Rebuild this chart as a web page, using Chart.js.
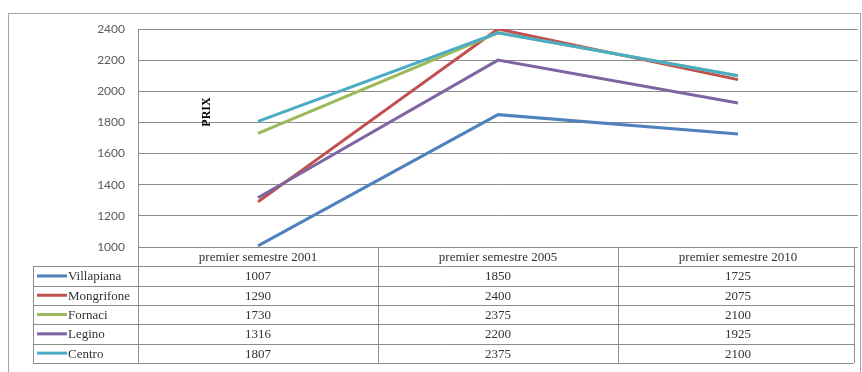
<!DOCTYPE html>
<html>
<head>
<meta charset="utf-8">
<script src="https://cdn.jsdelivr.net/npm/chart.js@4"></script>
<style>
  html, body { margin: 0; padding: 0; background: #fff; }
</style>
</head>
<body>
<canvas id="priceChart" width="862" height="372"></canvas>
<script>
// data
const periods = ["premier semestre 2001", "premier semestre 2005", "premier semestre 2010"];
const zones = ["Villapiana", "Mongrifone", "Fornaci", "Legino", "Centro"];
const villapiana = [1007, 1850, 1725];
const mongrifone = [1290, 2400, 2075];
const fornaci = [1730, 2375, 2100];
const legino = [1316, 2200, 1925];
const centro = [1807, 2375, 2100];
const yTicks = [1000, 1200, 1400, 1600, 1800, 2000, 2200, 2400];

const colors = ["#4F81BD", "#C0504D", "#9BBB59", "#8064A2", "#4BACC6"];
const allValues = [villapiana, mongrifone, fornaci, legino, centro];

// draws the frame, the PRIX label and the data table under the plot
const tablePlugin = {
  id: "dataTable",
  afterDraw(chart) {
    let ctx = chart.ctx;
    let area = chart.chartArea;
    let x = chart.scales.x;
    let lineCol = "#8c8c8c";

    ctx.save();
    // outer frame
    ctx.strokeStyle = "#a6a6a6";
    ctx.lineWidth = 1;
    ctx.strokeRect(8.5, 13.5, 852, 400);

    // PRIX
    ctx.save();
    ctx.translate(207, 112);
    ctx.rotate(-Math.PI / 2);
    ctx.font = 'bold 12px "Liberation Serif"';
    ctx.fillStyle = "#000";
    ctx.textAlign = "center";
    ctx.textBaseline = "middle";
    ctx.fillText("PRIX", 0, 0);
    ctx.restore();

    // table geometry from the x scale
    let colW = x.getPixelForValue(1) - x.getPixelForValue(0);
    let bounds = [];
    for (let i = 0; i <= periods.length; i++) {
      bounds.push(x.getPixelForValue(0) - colW / 2 + i * colW);
    }
    bounds[bounds.length - 1] -= 4;
    let rowH = 19.3;
    let top = area.bottom;
    let legendLeft = 33;
    let bottom = top + rowH * (zones.length + 1);

    ctx.strokeStyle = lineCol;
    ctx.lineWidth = 1;
    ctx.beginPath();
    // header row lines
    ctx.moveTo(bounds[0], top + 0.5);
    ctx.lineTo(bounds[bounds.length - 1], top + 0.5);
    for (let r = 1; r <= zones.length + 1; r++) {
      let yy = Math.round(top + r * rowH) + 0.5;
      ctx.moveTo(legendLeft, yy);
      ctx.lineTo(bounds[bounds.length - 1], yy);
    }
    bounds.forEach(b => {
      let bx = Math.round(b) + 0.5;
      ctx.moveTo(bx, top);
      ctx.lineTo(bx, bottom);
    });
    ctx.moveTo(legendLeft + 0.5, Math.round(top + rowH));
    ctx.lineTo(legendLeft + 0.5, bottom);
    ctx.stroke();

    ctx.font = '13px "Liberation Serif"';
    ctx.fillStyle = "#333";
    ctx.textBaseline = "middle";

    // header
    ctx.textAlign = "center";
    periods.forEach((p, i) => {
      ctx.fillText(p, x.getPixelForValue(i), top + rowH / 2 + 1);
    });

    // rows
    zones.forEach((name, r) => {
      let cy = top + rowH * (r + 1) + rowH / 2 + 1;
      ctx.strokeStyle = colors[r];
      ctx.lineWidth = 3;
      ctx.beginPath();
      ctx.moveTo(37, cy - 1);
      ctx.lineTo(67, cy - 1);
      ctx.stroke();
      ctx.textAlign = "left";
      ctx.fillText(name, 68, cy);
      ctx.textAlign = "center";
      allValues[r].forEach((v, i) => {
        ctx.fillText(String(v), x.getPixelForValue(i), cy);
      });
    });
    ctx.restore();
  }
};

let ctx = document.getElementById("priceChart");

let chart = new Chart(ctx, {
  type: "line",
  data: {
    labels: periods,
    datasets: zones.map((name, i) => ({
      label: name,
      data: allValues[i],
      borderColor: colors[i],
      backgroundColor: colors[i],
      borderWidth: 3,
      pointRadius: 0,
      tension: 0,
      fill: false,
      order: zones.length - i
    }))
  },
  options: {
    responsive: false,
    animation: false,
    layout: {
      padding: { left: 0, top: 29, right: 4, bottom: 125 }
    },
    plugins: {
      legend: { display: false },
      tooltip: { enabled: false }
    },
    scales: {
      x: {
        display: false,
        offset: true
      },
      y: {
        min: 1000,
        max: 2400,
        afterFit(scale) { scale.width = 138; },
        afterBuildTicks(scale) { scale.ticks = yTicks.map(v => ({ value: v })); },
        ticks: {
          color: "#595959",
          padding: 13,
          font: { family: "Lato", size: 12 },
          callback: v => String(v)
        },
        grid: {
          color: "#8c8c8c",
          lineWidth: 1,
          drawTicks: false
        },
        border: { display: true, color: "#8c8c8c" }
      }
    }
  },
  plugins: [tablePlugin]
});
</script>
</body>
</html>
